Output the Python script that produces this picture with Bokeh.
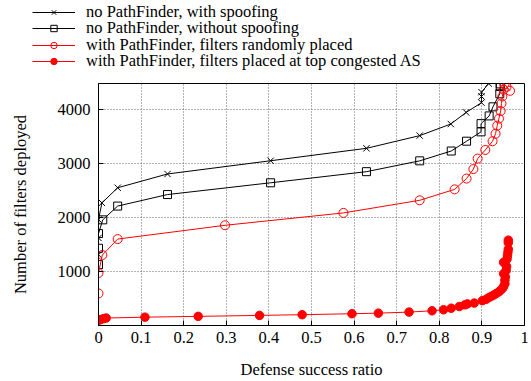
from bokeh.plotting import figure
from bokeh.layouts import column
from bokeh.models import Range1d, FixedTicker, Legend, LegendItem, Plot
from bokeh.embed import file_html
from bokeh.resources import INLINE

# ---- data ----
x_spoof = [0, 0, 0, 0.008, 0.045, 0.162, 0.404, 0.629, 0.754, 0.827, 0.863, 0.899, 0.899, 0.899, 0.916]
y_spoof = [1310, 1620, 1960, 2270, 2550, 2805, 3050, 3280, 3515, 3730, 3945, 4125, 4240, 4320, 4480]

x_nospoof = [0, 0, 0, 0.01, 0.045, 0.162, 0.404, 0.629, 0.754, 0.828, 0.864, 0.898, 0.898, 0.917, 0.926, 0.942, 0.943, 0.943]
y_nospoof = [1127, 1430, 1702, 1956, 2211, 2424, 2642, 2848, 3048, 3230, 3412, 3585, 3737, 3880, 4048, 4290, 4424, 4473]

x_random = [0, 0, 0.009, 0.045, 0.297, 0.575, 0.754, 0.836, 0.864, 0.880, 0.890, 0.908, 0.925, 0.932,
            0.936, 0.940, 0.944, 0.946, 0.948, 0.951, 0.953, 0.958, 0.966]
y_random = [593, 972, 1305, 1600, 1855, 2084, 2318, 2520, 2720, 2896, 3090, 3250, 3411, 3550,
            3700, 3830, 3970, 4110, 4240, 4365, 4470, 4420, 4345]

x_top = [0, 0.005, 0.012, 0.018, 0.109, 0.234, 0.378, 0.478, 0.595, 0.657, 0.729, 0.783, 0.810, 0.828,
         0.847, 0.860, 0.866, 0.882, 0.901, 0.910, 0.916, 0.922, 0.928, 0.934, 0.940, 0.944, 0.948,
         0.951, 0.954, 0.954, 0.955, 0.951, 0.957, 0.958, 0.951, 0.959, 0.960, 0.961, 0.962, 0.962, 0.962]
y_top = [96, 110, 127, 138, 154, 169, 187, 200, 218, 229, 248, 273, 291, 320,
         351, 382, 400, 415, 460, 485, 515, 540, 564, 595, 624, 655, 684,
         720, 775, 840, 900, 960, 1018, 1090, 1169, 1230, 1291, 1350, 1411, 1533, 1580]

labels = ["no PathFinder, with spoofing",
          "no PathFinder, without spoofing",
          "with PathFinder, filters randomly placed",
          "with PathFinder, filters placed at top congested AS"]

x_ticks = [0, 0.1, 0.2, 0.3, 0.4, 0.5, 0.6, 0.7, 0.8, 0.9, 1]
x_tick_labels = ["0", "0.1", "0.2", "0.3", "0.4", "0.5", "0.6", "0.7", "0.8", "0.9", "1"]
y_ticks = [1000, 2000, 3000, 4000]

FONT = "Liberation Serif"
FS = "16.5px"
RED = "#ff0000"

styles = [dict(color="black", marker="x", fill=None, size=9),
          dict(color="black", marker="square", fill=None, size=8),
          dict(color=RED, marker="circle", fill=None, size=9),
          dict(color=RED, marker="circle", fill=RED, size=8.5)]
series = [(x_spoof, y_spoof), (x_nospoof, y_nospoof), (x_random, y_random), (x_top, y_top)]

HAS_FRAME_ALIGN = "frame_align" in Plot.properties()

# ---- main plot ----
p = figure(width=531, height=298, output_backend="svg", toolbar_location=None,
           x_range=Range1d(0, 1), y_range=Range1d(0, 4480),
           min_border_left=98, min_border_right=7, min_border_top=0, min_border_bottom=52)
if HAS_FRAME_ALIGN:
    p.frame_align = False
p.background_fill_color = "white"
p.border_fill_color = "white"
p.outline_line_color = "black"
p.outline_line_width = 1

p.xaxis.ticker = FixedTicker(ticks=x_ticks)
p.yaxis.ticker = FixedTicker(ticks=y_ticks)
p.xaxis.major_label_overrides = {t: s for t, s in zip(x_ticks, x_tick_labels)}
for ax in (p.xaxis[0], p.yaxis[0]):
    ax.major_label_text_font = FONT
    ax.major_label_text_font_size = FS
    ax.major_label_text_color = "black"
    ax.axis_label_text_font = FONT
    ax.axis_label_text_font_size = FS
    ax.axis_label_text_font_style = "normal"
    ax.axis_label_text_color = "black"
    ax.axis_line_color = "black"
    ax.major_tick_in = 5
    ax.major_tick_out = 0
    ax.minor_tick_line_color = None
    ax.major_tick_line_color = "black"
p.xaxis.axis_label = "Defense success ratio"
p.yaxis.axis_label = "Number of filters deployed"
p.xaxis.major_label_standoff = 6
p.xaxis.axis_label_standoff = 14
p.yaxis.major_label_standoff = 8
p.yaxis.axis_label_standoff = 25

p.xgrid.ticker = FixedTicker(ticks=x_ticks[1:-1])
p.ygrid.ticker = FixedTicker(ticks=y_ticks)
for g in (p.xgrid[0], p.ygrid[0]):
    g.grid_line_color = "#666666"
    g.grid_line_dash = "1 2"
    g.grid_line_width = 1

for (xs, ys), st in zip(series, styles):
    p.line(xs, ys, line_color=st["color"], line_width=1)
    p.scatter(xs, ys, marker=st["marker"], size=st["size"], line_color=st["color"],
              fill_color=st["fill"], line_width=1)

# ---- legend strip above the plot (same series, ranges kept out of view) ----
lg = figure(width=531, height=83, output_backend="svg", toolbar_location=None,
            x_range=Range1d(10, 11), y_range=Range1d(10000, 10001),
            x_axis_type=None, y_axis_type=None,
            min_border_left=0, min_border_right=0, min_border_top=0, min_border_bottom=0)
if HAS_FRAME_ALIGN:
    lg.frame_align = False
lg.outline_line_color = None
lg.xgrid.visible = False
lg.ygrid.visible = False

leg_x = 32 if HAS_FRAME_ALIGN else -66
row_offsets = [61, 45, 28, 12]
for lab, st, (xs, ys), vy in zip(labels, styles, series, row_offsets):
    lr = lg.line(xs, ys, line_color=st["color"], line_width=1)
    sr = lg.scatter(xs, ys, marker=st["marker"], size=st["size"], line_color=st["color"],
                    fill_color=st["fill"], line_width=1)
    leg = Legend(items=[LegendItem(label=lab, renderers=[lr, sr])],
                 location=(leg_x, vy), orientation="vertical",
                 label_text_font=FONT, label_text_font_size=FS, label_text_color="black",
                 glyph_width=43, glyph_height=16, label_height=16, label_standoff=11,
                 spacing=0, padding=0, margin=0,
                 border_line_alpha=0, background_fill_alpha=0)
    lg.add_layout(leg, "center")

layout = column(lg, p, spacing=0)
open("out.html", "w").write(file_html(layout, INLINE))
